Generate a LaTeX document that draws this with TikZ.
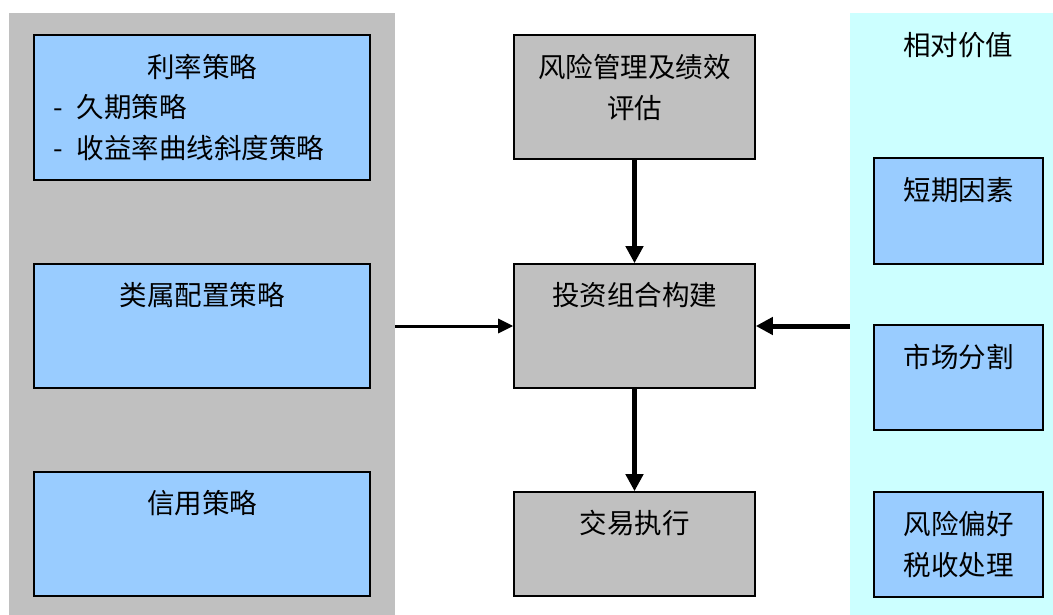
\documentclass[tikz,border=0pt]{standalone}
\usepackage{fontspec}
\newfontfamily\cjk{Noto Sans CJK SC}
\usetikzlibrary{arrows.meta}
\definecolor{panelgray}{HTML}{C0C0C0}
\definecolor{panelcyan}{HTML}{CCFFFF}
\definecolor{boxblue}{HTML}{99CCFF}
\tikzset{
	panel/.style={fill=#1, inner sep=0pt},
	box/.style={draw=black, line width=1.6pt, fill=#1, inner sep=0pt},
	txt/.style={font=\cjk\fontsize{27.5}{41}\selectfont, inner sep=0pt},
	flow/.style={line width=#1, -{Triangle[length=17pt, width=17pt]}},
}

\begin{document}
\begin{tikzpicture}[x=1pt, y=-1pt]
		%%%%% START %%%%%
		\useasboundingbox (0,0) rectangle (1053,615);
		
		% side panels
		\node[panel=panelgray, minimum width=386pt, minimum height=602pt] (leftpanel) at (202,314) {};
		\node[panel=panelcyan, minimum width=203pt, minimum height=602pt] (rightpanel) at (951.5,314) {};
		
		% left strategies
		\node[box=boxblue, minimum width=336pt, minimum height=145pt] (rate) at (202,107.5) {};
		\node[txt] (ratetitle) at (202,67) {利率策略};
		\node[txt, anchor=west, align=left] (ratelist) at (53,128) {-\hspace{14pt}久期策略\\-\hspace{14pt}收益率曲线斜度策略};
		
		\node[box=boxblue, minimum width=336pt, minimum height=124pt] (alloc) at (202,326) {};
		\node[txt] (alloctext) at (202,295) {类属配置策略};
		
		\node[box=boxblue, minimum width=336pt, minimum height=124pt] (credit) at (202,534) {};
		\node[txt] (credittext) at (202,503) {信用策略};
		
		% centre column
		\node[box=panelgray, minimum width=241pt, minimum height=124pt] (risk) at (634.5,97) {};
		\node[txt, align=center] (risktext) at (634.5,87) {风险管理及绩效\\评估};
		
		\node[box=panelgray, minimum width=241pt, minimum height=124pt] (build) at (634.5,326) {};
		\node[txt] (buildtext) at (634.5,295) {投资组合构建};
		
		\node[box=panelgray, minimum width=241pt, minimum height=104pt] (trade) at (634.5,544) {};
		\node[txt] (tradetext) at (634.5,523) {交易执行};
		
		% relative value
		\node[txt] (rvtitle) at (958,45) {相对价值};
		
		\node[box=boxblue, minimum width=169pt, minimum height=106pt] (short) at (958.5,211) {};
		\node[txt] (shorttext) at (958.5,190) {短期因素};
		
		\node[box=boxblue, minimum width=169pt, minimum height=105pt] (market) at (958.5,377.5) {};
		\node[txt] (markettext) at (958.5,357) {市场分割};
		
		\node[box=boxblue, minimum width=169pt, minimum height=105pt] (pref) at (958.5,544.5) {};
		\node[txt, align=center] (preftext) at (958.5,544.5) {风险偏好\\税收处理};
		
		% connectors
		\draw[line width=3pt, -{Triangle[length=15pt, width=14pt]}] (leftpanel.east |- build.west) -- (build.west);
		\draw[flow=5pt] (rightpanel.west |- build.east) -- (build.east);
		\draw[flow=5pt] (risk.south) -- (build.north);
		\draw[flow=5pt] (build.south) -- (trade.north);
		
		%%%%% END %%%%%
	\end{tikzpicture}
\end{document}
